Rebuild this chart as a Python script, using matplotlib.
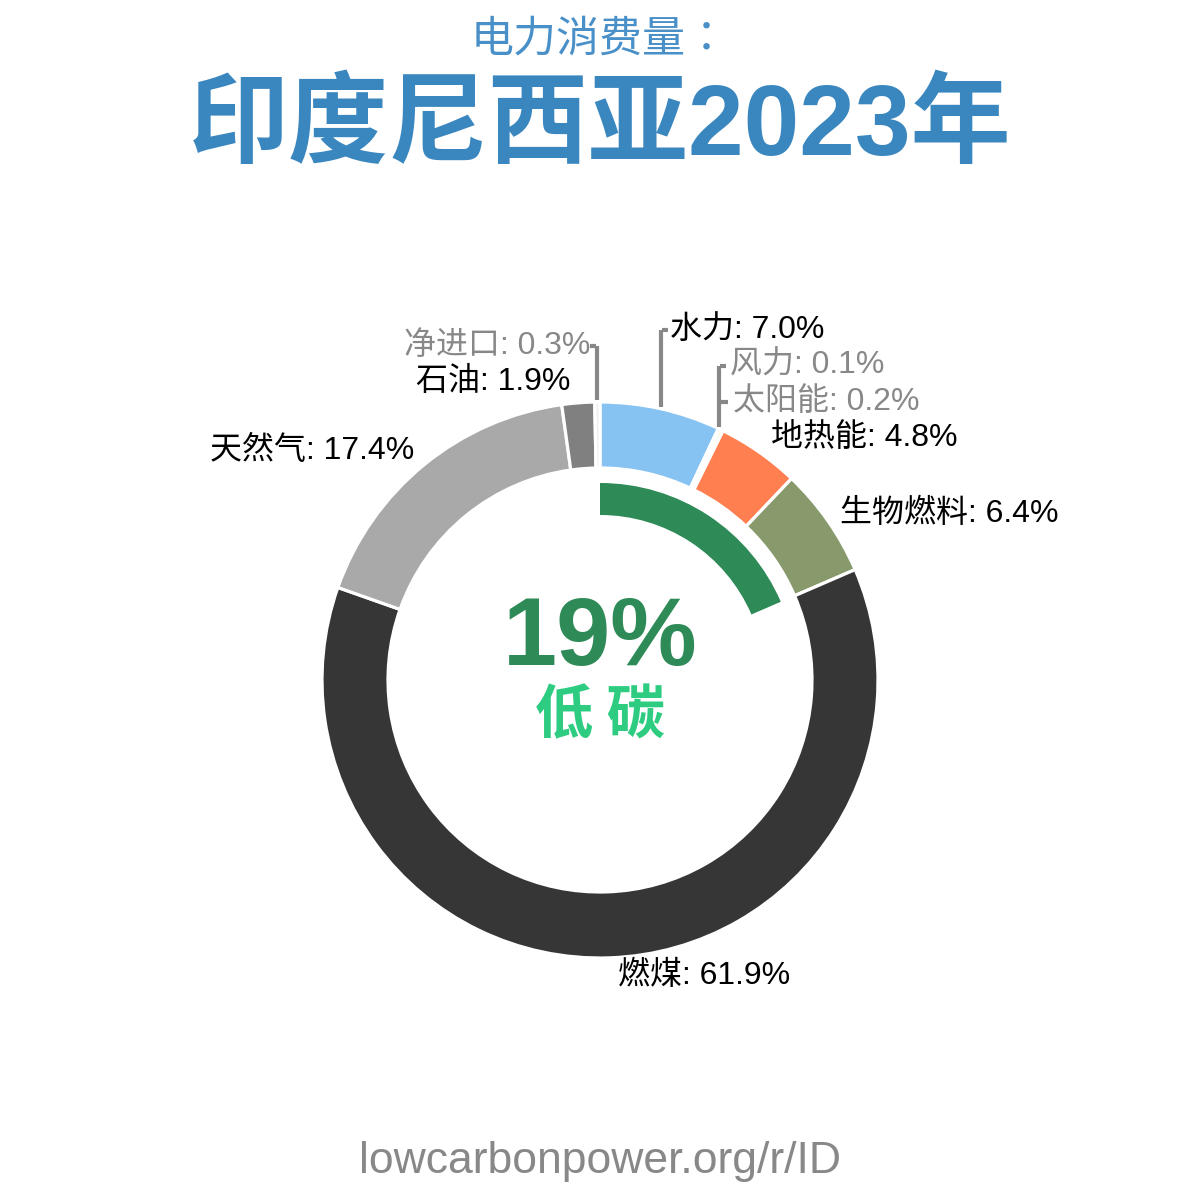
import matplotlib
matplotlib.use("Agg")
import matplotlib.pyplot as plt
from matplotlib.patches import Wedge
import numpy as np

sources = ["水力", "风力", "太阳能", "地热能", "生物燃料", "燃煤", "天然气", "石油", "净进口"]
shares = [7.0, 0.1, 0.2, 4.8, 6.4, 61.9, 17.4, 1.9, 0.3]
colors = ["#87c3f2", "#a0d8f0", "#ffd700", "#ff7f50", "#889a6b", "#363636", "#a9a9a9", "#808080", "#f0f0f0"]
low_carbon = ["水力", "风力", "太阳能", "地热能", "生物燃料"]
low_carbon_headline = 19
title_small = "电力消费量："
title_big = "印度尼西亚2023年"
footer = "lowcarbonpower.org/r/ID"

FAM = ["Liberation Sans", "Noto Sans CJK SC"]
H = 1200
def Y(py):
    return H - py

fig = plt.figure(figsize=(12, 12), dpi=100)
ax = fig.add_axes([0, 0, 1, 1])

cx, cy = 600, Y(680)
R, W = 278, 66
ax.pie(shares, colors=colors, startangle=90, counterclock=False, radius=R, center=(cx, cy),
       wedgeprops=dict(width=W, edgecolor="white", linewidth=2.3))

lc = sum(s for n, s in zip(sources, shares) if n in low_carbon)
ax.add_patch(Wedge((cx, cy), 197, 90 - lc * 3.6, 90, width=32, facecolor="#2e8b57", edgecolor="none"))

ax.set_xlim(0, 1200)
ax.set_ylim(0, 1200)
ax.set_aspect("equal")
ax.axis("off")

# mid angles (degrees clockwise from top)
cum = np.cumsum([0] + shares)
mid = {n: (cum[i] + cum[i + 1]) / 2 * 3.6 for i, n in enumerate(sources)}

def edge_x(name, r=R):
    a = np.deg2rad(mid[name])
    return cx + r * np.sin(a)

def edge_y(name, r=R):
    a = np.deg2rad(mid[name])
    return cy + r * np.cos(a)

fs = 23
lab = {n: f"{n}: {s:.1f}%" for n, s in zip(sources, shares)}
gray = "#888888"

# labels: (name, x, y, ha, color)
layout = [
    ("净进口", 590, 346, "right", gray),
    ("石油", 570, 382, "right", "black"),
    ("天然气", 414, 451, "right", "black"),
    ("水力", 670, 330, "left", "black"),
    ("风力", 730, 366, "left", gray),
    ("太阳能", 733, 402, "left", gray),
    ("地热能", 771, 438, "left", "black"),
    ("生物燃料", 840, 514, "left", "black"),
    ("燃煤", 618, 976, "left", "black"),
]
for n, x, y, ha, c in layout:
    ax.text(x, Y(y), lab[n], ha=ha, va="center", fontsize=fs, color=c, family=FAM)

# leader lines
lw = 3
def leader(name, px, ty, side):
    ey = edge_y(name)
    ax.plot([px, px], [ey + 2, Y(ty)], color=gray, lw=lw, solid_capstyle="butt")
    if side == "right":
        ax.plot([px + 1, px + 7], [Y(ty), Y(ty)], color=gray, lw=lw, solid_capstyle="butt")
    else:
        ax.plot([px - 7, px - 1], [Y(ty), Y(ty)], color=gray, lw=lw, solid_capstyle="butt")

leader("净进口", edge_x("净进口"), 346, "left")
leader("水力", edge_x("水力"), 330, "right")
leader("风力", edge_x("风力"), 366, "right")
ax.plot([edge_x("风力") + 1, edge_x("风力") + 9], [Y(402), Y(402)], color=gray, lw=lw, solid_capstyle="butt")

# center text
ax.text(600, Y(640), f"{low_carbon_headline}%", ha="center", va="center", fontsize=70, fontweight="bold",
        color="#2e8b57", family=FAM)
ax.text(600, Y(716), "低 碳", ha="center", va="center", fontsize=42, fontweight="bold",
        color="#2ecc80", family=["Noto Sans CJK SC"])

# titles
ax.text(600, Y(40), title_small, ha="center", va="center", fontsize=31, color="#4a90c8",
        family=["Noto Sans CJK TC"])
ax.text(600, Y(129), title_big, ha="center", va="center", fontsize=72, fontweight="bold",
        color="#3a87c0", family=FAM)
ax.text(600, Y(1162), footer, ha="center", va="center", fontsize=32, color="#888888", family=FAM)

fig.savefig("out.png", dpi=100, facecolor="white")
